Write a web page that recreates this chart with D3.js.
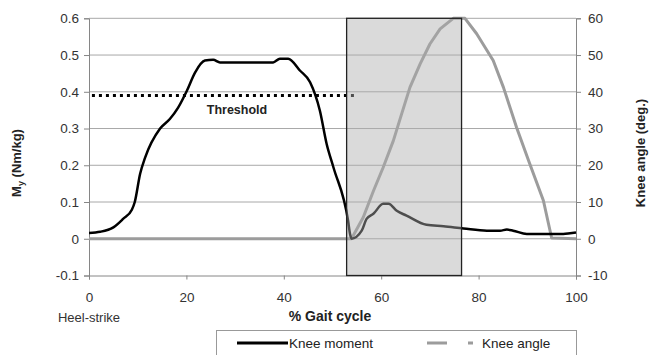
<!DOCTYPE html>
<html>
<head>
<meta charset="utf-8">
<script src="https://cdn.jsdelivr.net/npm/d3@7"></script>
<style>
  body { margin: 0; background: #fff; }
  text { font-family: "Liberation Sans", Arial, sans-serif; }
</style>
</head>
<body>
<div id="chart"></div>
<script>
// % gait cycle / knee moment (Nm/kg)
const momentX = [0, 2.3, 5, 7, 8.8, 9.4, 10.5, 11.5, 14.6, 16.6, 18.3, 20.1, 21.8, 23.8, 25.5, 26.9,
  37.8, 39.2, 40.9, 43.3, 45.4, 47.4, 48.8, 50.2, 53.2, 53.6, 53.9, 56, 57, 58.4, 60.4, 61.5, 63.2,
  65.2, 69.3, 72.8, 76.9, 81.7, 84.4, 85.8, 87.1, 89.9, 94.7, 97.4, 98.8, 100];
const momentY = [0.016, 0.019, 0.031, 0.054, 0.079, 0.10, 0.177, 0.22, 0.30, 0.326, 0.357, 0.403, 0.453, 0.485, 0.487, 0.48,
  0.48, 0.49, 0.49, 0.458, 0.426, 0.349, 0.258, 0.194, 0.049, 0.013, 0.0, 0.022, 0.054, 0.068, 0.095, 0.095, 0.076,
  0.063, 0.038, 0.034, 0.028, 0.022, 0.022, 0.025, 0.022, 0.013, 0.013, 0.013, 0.015, 0.017];
// % gait cycle / knee angle (deg.)
const angleX = [0, 53.9, 56.3, 58.4, 60.4, 62.5, 64.2, 65.9, 68, 70, 72.1, 74.8, 77.2, 79.6, 83, 85.1, 87.8, 90.5, 93.3, 95, 100];
const angleY = [0, 0, 5.8, 13, 19.4, 26.7, 34, 41.2, 47.6, 53, 57.1, 60, 60, 55.8, 48.5, 41.2, 30.3, 20.4, 10.4, 0.2, 0];

const threshold = 0.39;
const thresholdRange = [0.6, 55];
const swingPhase = [52.9, 76.5];

const xTicks = [0, 20, 40, 60, 80, 100];
const leftTicks = [-0.1, 0, 0.1, 0.2, 0.3, 0.4, 0.5, 0.6];
const rightTicks = [-10, 0, 10, 20, 30, 40, 50, 60];

const W = 650, H = 355;
const svg = d3.select('#chart').append('svg')
  .attr('width', W).attr('height', H);

const x = d3.scaleLinear().domain([0, 100]).range([89, 576]);
const yL = d3.scaleLinear().domain([-0.1, 0.6]).range([275.5, 18.3]);
const yR = d3.scaleLinear().domain([-10, 60]).range([275.5, 18.3]);

// plain hyphen minus like the original
const fmtL = d => d === 0 ? '0' : d.toFixed(1);
const fmtR = d => String(d);

// gridlines
svg.append('g').selectAll('line')
  .data(leftTicks.filter(d => d > -0.1))
  .enter().append('line')
  .attr('x1', x(0)).attr('x2', x(100))
  .attr('y1', d => yL(d)).attr('y2', d => yL(d))
  .attr('stroke', '#a8a8a8').attr('stroke-width', 1);

// axes
const axisColor = '#868686';
const left = svg.append('g')
  .attr('transform', 'translate(' + x(0) + ',0)')
  .call(d3.axisLeft(yL).tickValues(leftTicks).tickSize(5).tickPadding(5).tickFormat(fmtL));

const right = svg.append('g')
  .attr('transform', 'translate(' + x(100) + ',0)')
  .call(d3.axisRight(yR).tickValues(rightTicks).tickSize(5).tickPadding(7).tickFormat(fmtR));

const bottom = svg.append('g')
  .attr('transform', 'translate(0,' + yL(-0.1) + ')')
  .call(d3.axisBottom(x).tickValues(xTicks).tickSize(4).tickPadding(13).tickFormat(fmtR));

[left, right, bottom].forEach(g => {
  g.select('.domain').attr('stroke', axisColor);
  g.selectAll('.tick line').attr('stroke', axisColor);
  g.selectAll('text').attr('fill', '#333').style('font-size', '13.5px')
    .style('font-family', '"Liberation Sans", Arial, sans-serif');
});

// threshold
svg.append('line')
  .attr('x1', x(thresholdRange[0])).attr('x2', x(thresholdRange[1]))
  .attr('y1', yL(threshold)).attr('y2', yL(threshold))
  .attr('stroke', '#000').attr('stroke-width', 3)
  .attr('stroke-dasharray', '3,4');

svg.append('text')
  .attr('x', 237).attr('y', 114)
  .attr('text-anchor', 'middle')
  .style('font-size', '12.5px').style('font-weight', 'bold')
  .attr('fill', '#222')
  .text('Threshold');

// series
const angleData = angleX.map((d, i) => [d, angleY[i]]);
const momentData = momentX.map((d, i) => [d, momentY[i]]);

svg.append('path')
  .datum(angleData)
  .attr('fill', 'none')
  .attr('stroke', '#9c9c9c')
  .attr('stroke-width', 3)
  .attr('stroke-linejoin', 'round')
  .attr('d', d3.line().x(d => x(d[0])).y(d => yR(d[1])));

svg.append('path')
  .datum(momentData)
  .attr('fill', 'none')
  .attr('stroke', '#000')
  .attr('stroke-width', 2.5)
  .attr('stroke-linejoin', 'round')
  .attr('d', d3.line().curve(d3.curveMonotoneX).x(d => x(d[0])).y(d => yL(d[1])));

// shaded swing phase box
svg.append('rect')
  .attr('x', x(swingPhase[0]))
  .attr('y', yL(0.6))
  .attr('width', x(swingPhase[1]) - x(swingPhase[0]))
  .attr('height', yL(-0.1) - yL(0.6))
  .attr('fill', '#adadad').attr('fill-opacity', 0.45)
  .attr('stroke', '#222').attr('stroke-width', 1.3);

// axis titles
const yTitle = svg.append('text')
  .attr('transform', 'translate(21,163) rotate(-90)')
  .attr('text-anchor', 'middle')
  .style('font-size', '13px').style('font-weight', 'bold')
  .attr('fill', '#222');
yTitle.append('tspan').text('M');
yTitle.append('tspan').attr('dy', 3).style('font-size', '9px').text('y');
yTitle.append('tspan').attr('dy', -3).text(' (Nm/kg)');

svg.append('text')
  .attr('transform', 'translate(645,153) rotate(-90)')
  .attr('text-anchor', 'middle')
  .style('font-size', '13px').style('font-weight', 'bold')
  .attr('fill', '#222')
  .text('Knee angle (deg.)');

svg.append('text')
  .attr('x', 330).attr('y', 321)
  .attr('text-anchor', 'middle')
  .style('font-size', '14px').style('font-weight', 'bold')
  .attr('fill', '#222')
  .text('% Gait cycle');

svg.append('text')
  .attr('x', x(0)).attr('y', 322)
  .attr('text-anchor', 'middle')
  .style('font-size', '13px')
  .attr('fill', '#333')
  .text('Heel-strike');

// legend
const legend = svg.append('g');
legend.append('rect')
  .attr('x', 216.5).attr('y', 330.5)
  .attr('width', 360).attr('height', 40)
  .attr('fill', '#fff').attr('stroke', '#999');
legend.append('line')
  .attr('x1', 237).attr('x2', 288).attr('y1', 343).attr('y2', 343)
  .attr('stroke', '#000').attr('stroke-width', 3);
legend.append('text')
  .attr('x', 289).attr('y', 348)
  .style('font-size', '13.5px').attr('fill', '#222')
  .text('Knee moment');
legend.append('line')
  .attr('x1', 427).attr('x2', 473).attr('y1', 343).attr('y2', 343)
  .attr('stroke', '#9c9c9c').attr('stroke-width', 3)
  .attr('stroke-dasharray', '20,21,5,100');
legend.append('text')
  .attr('x', 482).attr('y', 348)
  .style('font-size', '13.5px').attr('fill', '#222')
  .text('Knee angle');
</script>
</body>
</html>
